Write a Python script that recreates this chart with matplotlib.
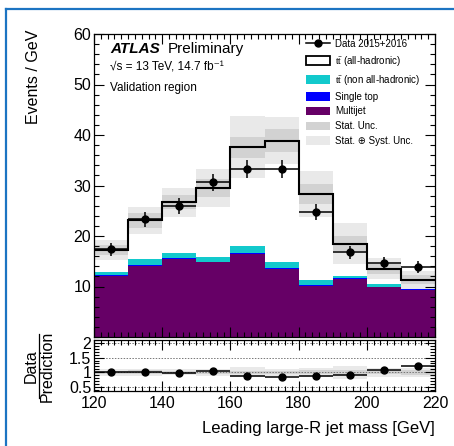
import numpy as np
import matplotlib
matplotlib.use('Agg')
import matplotlib.pyplot as plt
from matplotlib.patches import Patch
from matplotlib.lines import Line2D
from matplotlib.ticker import MultipleLocator

plt.rcParams['font.family'] = ['Liberation Sans', 'DejaVu Sans']
plt.rcParams['mathtext.fontset'] = 'custom'
plt.rcParams['mathtext.rm'] = 'Liberation Serif'
plt.rcParams['mathtext.it'] = 'Liberation Serif:italic'

# leading large-R jet mass bins [GeV]
edges = [120, 130, 140, 150, 160, 170, 180, 190, 200, 210, 220]
centers = [125, 135, 145, 155, 165, 175, 185, 195, 205, 215]

# stacked predictions, events / GeV
multijet = [12.1, 14.1, 15.4, 14.8, 16.4, 13.4, 10.1, 11.5, 9.9, 9.4]
single_top = [0.1, 0.1, 0.15, 0.1, 0.15, 0.2, 0.1, 0.1, 0.1, 0.1]
ttbar_nonhad = [0.7, 1.2, 1.05, 0.9, 1.45, 1.3, 1.1, 0.5, 0.5, 0.3]
ttbar_had = [4.3, 7.7, 10.1, 13.7, 19.6, 24.0, 17.0, 6.4, 3.0, 1.5]

stat_unc = [1.0, 1.5, 1.4, 1.7, 2.1, 2.2, 2.0, 1.5, 1.0, 0.9]
total_unc = [2.0, 2.7, 2.9, 3.7, 6.2, 4.7, 4.5, 4.1, 2.1, 1.8]

data = [17.4, 23.3, 25.9, 30.6, 33.3, 33.2, 24.8, 16.8, 14.7, 13.8]
data_err = [1.3, 1.5, 1.6, 1.75, 1.8, 1.8, 1.6, 1.3, 1.2, 1.2]

c_multijet = '#660066'
c_single = '#0000ff'
c_nonhad = '#12c9cc'
c_stat = '#d2d2d2'
c_syst = '#e9e9e9'

W, H = 454, 446
fig = plt.figure(figsize=(W / 100, H / 100), dpi=100)
ax = fig.add_axes([94 / W, 1 - 337 / H, 341 / W, 303 / H])
rax = fig.add_axes([94 / W, 1 - 391 / H, 341 / W, 51 / H], sharex=ax)

mj = np.array(multijet)
st = mj + np.array(single_top)
nh = st + np.array(ttbar_nonhad)
tot = nh + np.array(ttbar_had)
stat = np.array(stat_unc)
syst = np.array(total_unc)

ax.stairs(mj, edges, baseline=0, fill=True, color=c_multijet, lw=0)
ax.stairs(st, edges, baseline=mj, fill=True, color=c_single, lw=0)
ax.stairs(nh, edges, baseline=st, fill=True, color=c_nonhad, lw=0)
ax.stairs(tot + syst, edges, baseline=tot - syst, fill=True, color=c_syst, lw=0)
ax.stairs(tot + stat, edges, baseline=tot - stat, fill=True, color=c_stat, lw=0)
ax.stairs(tot, edges, baseline=None, color='black', lw=1.5)
ax.errorbar(centers, data, yerr=data_err, xerr=5, fmt='o', color='black',
            ms=5, elinewidth=1.1, capsize=0, zorder=5)

ax.set_xlim(120, 220)
ax.set_ylim(0, 60)
ax.set_yticks([10, 20, 30, 40, 50, 60])
ax.yaxis.set_minor_locator(MultipleLocator(2))
ax.xaxis.set_major_locator(MultipleLocator(20))
ax.xaxis.set_minor_locator(MultipleLocator(2))
for a in (ax, rax):
    a.tick_params(which='both', direction='in', top=True, right=True, labelsize=11.5, pad=2)
    a.tick_params(which='major', length=7, width=0.8)
    a.tick_params(which='minor', length=3.5, width=0.8)
    for s in a.spines.values():
        s.set_linewidth(0.9)
ax.tick_params(labelbottom=False)

# ratio panel
ratio = np.array(data) / tot
ratio_err = np.array(data_err) / tot
rax.stairs(1 + syst / tot, edges, baseline=1 - syst / tot, fill=True, color=c_syst, lw=0)
rax.stairs(1 + stat / tot, edges, baseline=1 - stat / tot, fill=True, color=c_stat, lw=0)
for yv in (0.5, 1.0, 1.5, 2.0):
    rax.axhline(yv, color='#777777', lw=0.7, ls=(0, (1.5, 1.5)), zorder=1)
rax.errorbar(centers, ratio, yerr=ratio_err, xerr=5, fmt='o', color='black',
             ms=5, elinewidth=1.1, capsize=0, zorder=5)
rax.set_ylim(0.36, 2.1)
rax.set_yticks([0.5, 1, 1.5, 2])
rax.set_yticklabels(['0.5', '1', '1.5', '2'])
rax.yaxis.set_minor_locator(MultipleLocator(0.1))
rax.tick_params(axis='x', pad=3.5)
rax.set_xticks([120, 140, 160, 180, 200, 220])

fig.text(435 / W, 1 - 428 / H, 'Leading large-R jet mass [GeV]', ha='right', va='center', fontsize=12)
fig.text(33 / W, 1 - 30 / H, 'Events / GeV', rotation=90, ha='center', va='top', fontsize=11.5)
ymid = 1 - 366 / H
fig.text(31 / W, ymid, 'Data', rotation=90, ha='center', va='center', fontsize=11.5)
fig.text(47 / W, ymid, 'Prediction', rotation=90, ha='center', va='center', fontsize=11.5)
fig.add_artist(Line2D([39 / W, 39 / W], [1 - 334 / H, 1 - 398 / H], color='black', lw=0.9))

# labels inside the main panel
fig.text(110 / W, 1 - 49 / H, 'ATLAS', fontsize=11, fontweight='bold', style='italic', va='center')
fig.text(168 / W, 1 - 49 / H, 'Preliminary', fontsize=11, va='center')
fig.text(110 / W, 1 - 68 / H, '√s = 13 TeV, 14.7 fb⁻¹', fontsize=8.5, va='center')
fig.text(110 / W, 1 - 88 / H, 'Validation region', fontsize=8.5, va='center')

handles = [
    Line2D([], [], color='black', marker='o', ms=5, lw=1.1),
    Patch(facecolor='white', edgecolor='black', lw=1.3),
    Patch(facecolor=c_nonhad),
    Patch(facecolor=c_single),
    Patch(facecolor=c_multijet),
    Patch(facecolor=c_stat),
    Patch(facecolor=c_syst),
]
labels = [
    'Data 2015+2016',
    r'$\mathrm{t\bar{t}}$ (all-hadronic)',
    r'$\mathrm{t\bar{t}}$ (non all-hadronic)',
    'Single top',
    'Multijet',
    'Stat. Unc.',
    'Stat. ⊕ Syst. Unc.',
]
ax.legend(handles, labels, loc='upper left', bbox_to_anchor=((306 - 94) / 341, (337 - 39) / 303),
          frameon=False, fontsize=7, handlelength=2.5, handleheight=1.0,
          labelspacing=0.5, handletextpad=0.5, borderpad=0, borderaxespad=0)

# page frame
blue = '#1c74c2'
fig.add_artist(Line2D([6 / W, 1], [1 - 9 / H, 1 - 9 / H], color=blue, lw=1.6))
fig.add_artist(Line2D([6 / W, 6 / W], [0, 1 - 9 / H], color=blue, lw=1.6))

fig.savefig('out.png', dpi=100)
